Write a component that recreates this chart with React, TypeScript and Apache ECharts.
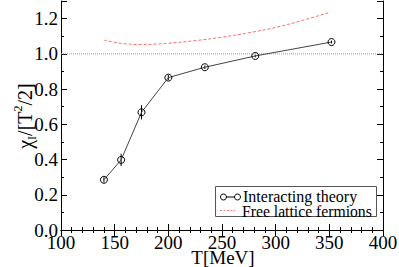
import React, { useEffect, useRef } from "react";
import * as echarts from "echarts";

const temps = [140, 156, 175, 200, 234, 281, 352];
const chiValues = [0.285, 0.398, 0.668, 0.865, 0.924, 0.988, 1.067];
const chiErrors = [0.015, 0.035, 0.04, 0.015, 0.01, 0.008, 0.008];
const freeTemps = [140, 150, 160, 175, 190, 200, 225, 250, 275, 300, 325, 350];
const freeValues = [1.078, 1.065, 1.057, 1.053, 1.056, 1.06, 1.075, 1.095, 1.12, 1.15, 1.19, 1.235];
const refLine = [[100, 1.0], [400, 1.0]];
const xTicks = { min: 100, max: 400, interval: 50 };
const yTicks = { min: 0, max: 1.3, interval: 0.2 };
const legendNames = ["Interacting theory", "Free lattice fermions"];
const xName = "T[MeV]";

const FONT = "Liberation Serif";

export default function App() {
  const ref = useRef<HTMLDivElement>(null);
  useEffect(() => {
    if (!ref.current) return;
    const chart = echarts.init(ref.current, null, { renderer: "svg" });
    const axisCommon = {
      axisLine: { show: true, lineStyle: { color: "#000", width: 1 } },
      axisTick: { show: true, inside: true, length: 6, lineStyle: { color: "#000" } },
      minorTick: { show: true, length: 3, lineStyle: { color: "#000" } },
      splitLine: { show: false },
    };
    const xBase = { type: "value", min: xTicks.min, max: xTicks.max, interval: xTicks.interval };
    const yBase = { type: "value", min: yTicks.min, max: yTicks.max, interval: yTicks.interval };
    chart.setOption({
      animation: false,
      grid: { left: 61, right: 16, top: 1, bottom: 37, containLabel: false, outerBoundsMode: "none" },
      xAxis: [
        {
          ...xBase,
          ...axisCommon,
          position: "bottom",
          minorTick: { ...axisCommon.minorTick, splitNumber: 5 },
          axisLabel: { color: "#000", fontFamily: FONT, fontSize: 19, lineHeight: 15, margin: 5 },
        },
        {
          ...xBase,
          ...axisCommon,
          position: "top",
          minorTick: { ...axisCommon.minorTick, splitNumber: 5 },
          axisLabel: { show: false },
        },
      ],
      yAxis: [
        {
          ...yBase,
          ...axisCommon,
          position: "left",
          minorTick: { ...axisCommon.minorTick, splitNumber: 2 },
          axisLabel: {
            color: "#000",
            fontFamily: FONT,
            fontSize: 19,
            margin: 3,
            formatter: (v: number) => v.toFixed(1),
          },
        },
        {
          ...yBase,
          ...axisCommon,
          position: "right",
          minorTick: { ...axisCommon.minorTick, splitNumber: 2 },
          axisLabel: { show: false },
        },
      ],
      graphic: [
        {
          type: "text",
          x: 223,
          y: 257,
          style: {
            text: xName,
            fontFamily: FONT,
            fontSize: 19,
            lineHeight: 14,
            fill: "#000",
            align: "center",
            verticalAlign: "middle",
          },
        },
        {
          type: "text",
          x: 25,
          y: 116,
          rotation: Math.PI / 2,
          style: {
            text: "{b|χ}{sub|I}{b|/[T}{sup|2}{b|/2]}",
            align: "center",
            verticalAlign: "middle",
            fill: "#000",
            rich: {
              b: { fontFamily: FONT, fontSize: 20, lineHeight: 26, fill: "#000" },
              sub: { fontFamily: FONT, fontSize: 12, lineHeight: 26, verticalAlign: "bottom", fill: "#000" },
              sup: { fontFamily: FONT, fontSize: 12, lineHeight: 26, verticalAlign: "top", fill: "#000" },
            },
          },
        },
        {
          type: "rect",
          shape: { x: 215.5, y: 186.5, width: 161, height: 30 },
          style: { fill: "#fff", stroke: "#555", lineWidth: 1 },
          z: 100,
        },
        {
          type: "line",
          shape: { x1: 223.5, y1: 197, x2: 237.5, y2: 197 },
          style: { stroke: "#000", lineWidth: 1 },
          z: 101,
        },
        {
          type: "circle",
          shape: { cx: 223.5, cy: 197, r: 3 },
          style: { fill: "#fff", stroke: "#000", lineWidth: 1 },
          z: 102,
        },
        {
          type: "circle",
          shape: { cx: 237.5, cy: 197, r: 3 },
          style: { fill: "#fff", stroke: "#000", lineWidth: 1 },
          z: 102,
        },
        {
          type: "text",
          x: 243,
          y: 196,
          style: {
            text: legendNames[0],
            fontFamily: FONT,
            fontSize: 16,
            lineHeight: 13,
            fill: "#000",
            verticalAlign: "middle",
          },
          z: 101,
        },
        {
          type: "line",
          shape: { x1: 220, y1: 210.5, x2: 235, y2: 210.5 },
          style: { stroke: "#ff7777", lineWidth: 1, lineDash: [2, 1.5] },
          z: 101,
        },
        {
          type: "text",
          x: 242,
          y: 211,
          style: {
            text: legendNames[1],
            fontFamily: FONT,
            fontSize: 15.7,
            lineHeight: 13,
            fill: "#000",
            verticalAlign: "middle",
          },
          z: 101,
        },
      ],
      series: [
        {
          type: "line",
          data: refLine,
          symbol: "none",
          silent: true,
          lineStyle: { color: "#999", width: 1, type: [1, 1] },
        },
        {
          type: "line",
          data: freeTemps.map((t, i) => [t, freeValues[i]]),
          symbol: "none",
          smooth: true,
          lineStyle: { color: "#ff6a6a", width: 1, type: [3, 2] },
        },
        {
          type: "custom",
          data: temps.map((t, i) => [t, chiValues[i] - chiErrors[i], chiValues[i] + chiErrors[i]]),
          renderItem: (params: any, api: any) => {
            const lo = api.coord([api.value(0), api.value(1)]);
            const hi = api.coord([api.value(0), api.value(2)]);
            return {
              type: "line",
              shape: { x1: lo[0], y1: lo[1], x2: hi[0], y2: hi[1] },
              style: { stroke: "#000", lineWidth: 1 },
            };
          },
          z: 3,
        },
        {
          type: "line",
          data: temps.map((t, i) => [t, chiValues[i]]),
          symbol: "circle",
          symbolSize: 7,
          itemStyle: { color: "none", borderColor: "#000", borderWidth: 1 },
          lineStyle: { color: "#444", width: 1 },
          z: 4,
        },
      ],
    });
    return () => chart.dispose();
  }, []);
  return (
    <div
      ref={ref}
      style={{ position: "fixed", left: 0, top: 0, width: 399, height: 267, background: "#fff" }}
    />
  );
}
